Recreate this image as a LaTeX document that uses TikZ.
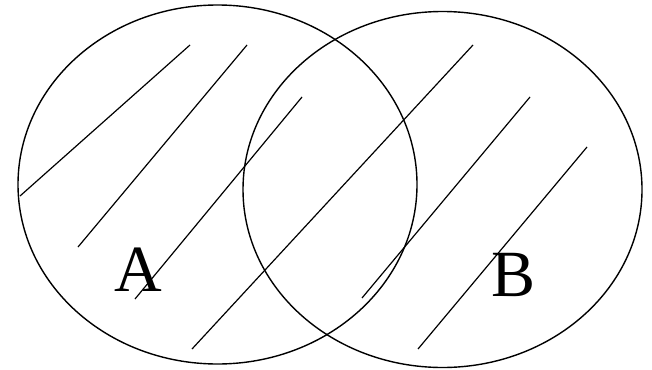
\documentclass[tikz,border=0pt]{standalone}
\usepackage{fontspec}
\setmainfont{Liberation Serif}
\usetikzlibrary{shapes.geometric}
\begin{document}
\begin{tikzpicture}[x=1pt,y=-1pt,
  ring/.style={draw=black,line width=1.4pt},
  hatch/.style={draw=black,line width=1.2pt},
  setlabel/.style={font=\fontsize{66}{66}\selectfont,inner sep=0pt,anchor=base}]
\useasboundingbox (0,0) rectangle (652,369);
\node[ring,ellipse,minimum width=399pt,minimum height=359pt,inner sep=0pt] (SA) at (217.5,184.5) {};
\node[ring,ellipse,minimum width=399pt,minimum height=356pt,inner sep=0pt] (SB) at (442.5,189.5) {};
\coordinate (h1a) at (190,45);  \coordinate (h1b) at (20,196);
\coordinate (h2a) at (247,45);  \coordinate (h2b) at (78,247);
\coordinate (h3a) at (302,97);  \coordinate (h3b) at (135,299);
\coordinate (h4a) at (473,45);  \coordinate (h4b) at (192,349);
\coordinate (h5a) at (530,97);  \coordinate (h5b) at (362,298);
\coordinate (h6a) at (587,147); \coordinate (h6b) at (418,349);
\draw[hatch] (h1a) -- (h1b);
\draw[hatch] (h2a) -- (h2b);
\draw[hatch] (h3a) -- (h3b);
\draw[hatch] (h4a) -- (h4b);
\draw[hatch] (h5a) -- (h5b);
\draw[hatch] (h6a) -- (h6b);
\node[setlabel] (LA) at (138,291) {A};
\node[setlabel] (LB) at (514,296) {B};
\end{tikzpicture}
\end{document}
